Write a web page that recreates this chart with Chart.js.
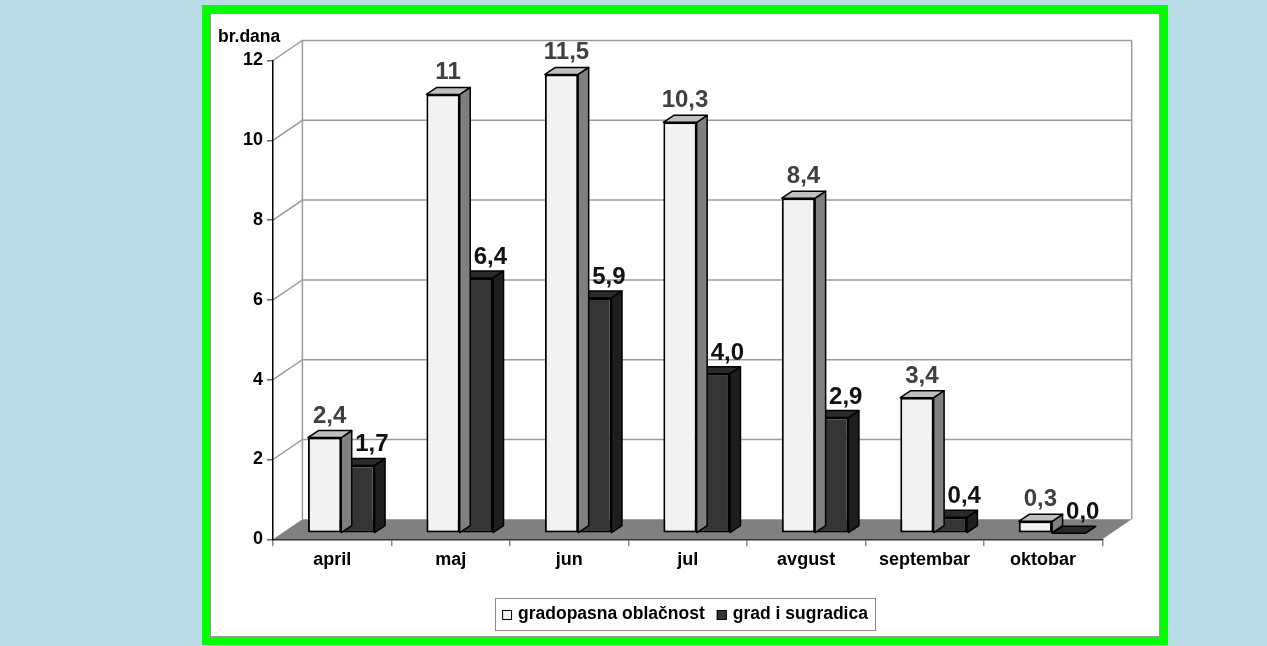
<!DOCTYPE html>
<html>
<head>
<meta charset="utf-8">
<title>br.dana</title>
<script src="https://cdn.jsdelivr.net/npm/chart.js@4.4.1/dist/chart.umd.min.js"></script>
<style>
    body {
        margin: 0;
        width: 1267px;
        height: 646px;
        overflow: hidden;
        position: relative;
        background: #b8dde6;
    }
    #panel {
        position: absolute;
        left: 202px;
        top: 5px;
        width: 966px;
        height: 640px;
        box-sizing: border-box;
        border: 8px solid #00ff00;
        background: #fff;
        box-shadow: inset 0 0 0 1px #9a9a9a;
    }
    #chart {
        position: absolute;
        left: 0;
        top: 0;
    }
</style>
</head>
<body>
<div id="panel"></div>
<canvas id="chart" width="1267" height="646"></canvas>
<script>
const months = ['april', 'maj', 'jun', 'jul', 'avgust', 'septembar', 'oktobar'];
// values as printed above the columns
const gradopasnaOblacnost = ['2,4', '11', '11,5', '10,3', '8,4', '3,4', '0,3'];
const gradISugradica = ['1,7', '6,4', '5,9', '4,0', '2,9', '0,4', '0,0'];
const yTicks = [0, 2, 4, 6, 8, 10, 12];

const FONT = '"Liberation Sans", Arial, sans-serif';
Chart.defaults.font.family = FONT;

const toNum = s => parseFloat(s.replace(',', '.'));

// oblique 3D look: floor depth, bar offset behind the front edge, bar depth
const WALL = { dx: 29.4, dy: -20 };
const SHIFT = { dx: 9, dy: -6 };
const DEPTH = { dx: 10.5, dy: -7 };

const faces = [
    { top: '#bfbfbf', side: '#7f7f7f', text: '#404040', lx: 5, ly: -15, labels: gradopasnaOblacnost },
    { top: '#2a2a2a', side: '#1e1e1e', text: '#111111', lx: 14, ly: -14, labels: gradISugradica }
];

function poly(ctx, pts, fill) {
    ctx.beginPath();
    ctx.moveTo(pts[0][0], pts[0][1]);
    for (let i = 1; i < pts.length; i++) ctx.lineTo(pts[i][0], pts[i][1]);
    ctx.closePath();
    if (fill) {
        ctx.fillStyle = fill;
        ctx.fill();
    }
    ctx.stroke();
}

const cubePlugin = {
    id: 'cube',
    beforeDraw(chart) {
        const { ctx, chartArea: a, scales: { y } } = chart;
        const bl = a.left + WALL.dx, br = a.right + WALL.dx;
        const y0 = y.getPixelForValue(0);
        const yTop = y.getPixelForValue(12);
        ctx.save();
        ctx.strokeStyle = '#9a9a9a';
        ctx.lineWidth = 1.5;
        // back wall grid + diagonals on the side wall
        yTicks.forEach(v => {
            if (v === 0) return;
            const py = y.getPixelForValue(v);
            ctx.beginPath();
            ctx.moveTo(a.left, py);
            ctx.lineTo(bl, py + WALL.dy);
            ctx.lineTo(br, py + WALL.dy);
            ctx.stroke();
        });
        ctx.beginPath();
        ctx.moveTo(bl, yTop + WALL.dy);
        ctx.lineTo(bl, y0 + WALL.dy);
        ctx.moveTo(br, yTop + WALL.dy);
        ctx.lineTo(br, y0 + WALL.dy);
        ctx.stroke();
        // floor
        ctx.beginPath();
        ctx.moveTo(a.left, y0);
        ctx.lineTo(a.right, y0);
        ctx.lineTo(br, y0 + WALL.dy);
        ctx.lineTo(bl, y0 + WALL.dy);
        ctx.closePath();
        ctx.fillStyle = '#808080';
        ctx.fill();
        ctx.restore();
    },
    beforeDatasetsDraw(chart) {
        chart.ctx.save();
        chart.ctx.translate(SHIFT.dx, SHIFT.dy);
    },
    afterDatasetDraw(chart, args) {
        const ctx = chart.ctx;
        const f = faces[args.index];
        ctx.save();
        ctx.strokeStyle = '#000';
        ctx.lineWidth = 1.5;
        ctx.lineJoin = 'round';
        args.meta.data.forEach(el => {
            const p = el.getProps(['x', 'y', 'base', 'width'], true);
            const l = p.x - p.width / 2, r = p.x + p.width / 2;
            const t = Math.min(p.y, p.base), b = Math.max(p.y, p.base);
            if (b - t > 0.5) {
                poly(ctx, [[r, t], [r, b], [r + DEPTH.dx, b + DEPTH.dy], [r + DEPTH.dx, t + DEPTH.dy]], f.side);
            }
            poly(ctx, [[l, t], [r, t], [r + DEPTH.dx, t + DEPTH.dy], [l + DEPTH.dx, t + DEPTH.dy]], f.top);
        });
        ctx.restore();
    },
    afterDatasetsDraw(chart) {
        const ctx = chart.ctx;
        ctx.restore();
        // value labels
        ctx.save();
        ctx.font = 'bold 24px ' + FONT;
        ctx.textAlign = 'center';
        ctx.textBaseline = 'alphabetic';
        chart.data.datasets.forEach((ds, i) => {
            const f = faces[i];
            ctx.fillStyle = f.text;
            chart.getDatasetMeta(i).data.forEach((el, j) => {
                const p = el.getProps(['x', 'y', 'base'], true);
                const t = Math.min(p.y, p.base);
                ctx.fillText(f.labels[j], p.x + f.lx + SHIFT.dx, t + f.ly + SHIFT.dy);
            });
        });
        ctx.restore();
    },
    afterDraw(chart) {
        const ctx = chart.ctx;
        ctx.save();
        // axis unit
        ctx.font = 'bold 17.5px ' + FONT;
        ctx.fillStyle = '#000';
        ctx.textBaseline = 'alphabetic';
        ctx.textAlign = 'left';
        ctx.fillText('br.dana', 218, 41.5);

        // legend box
        const box = 10, gap = 6, between = 12, pad = 7;
        const items = chart.data.datasets.map(ds => ({
            text: ds.label,
            fill: ds.backgroundColor,
            w: ctx.measureText(ds.label).width
        }));
        let total = pad * 2 + between * (items.length - 1);
        items.forEach(it => { total += box + gap + it.w; });
        const left = 685 - total / 2, top = 598, h = 32;
        ctx.strokeStyle = '#8c8c8c';
        ctx.lineWidth = 1;
        ctx.strokeRect(Math.round(left) + 0.5, top + 0.5, Math.round(total), h);
        let x = left + pad;
        items.forEach(it => {
            ctx.fillStyle = it.fill;
            ctx.fillRect(x, 610, box, box);
            ctx.strokeStyle = '#000';
            ctx.strokeRect(x + 0.5, 610.5, box - 1, box - 1);
            x += box + gap;
            ctx.fillStyle = '#000';
            ctx.fillText(it.text, x, 618.5);
            x += it.w + between;
        });
        ctx.restore();
    }
};

new Chart(document.getElementById('chart'), {
    type: 'bar',
    data: {
        labels: months,
        datasets: [
            {
                label: 'gradopasna oblačnost',
                data: gradopasnaOblacnost.map(toNum),
                backgroundColor: '#f2f2f2',
                borderColor: '#000',
                borderWidth: 2,
                borderSkipped: false,
                clip: false
            },
            {
                label: 'grad i sugradica',
                data: gradISugradica.map(toNum),
                backgroundColor: '#353535',
                borderColor: '#000',
                borderWidth: 2,
                borderSkipped: false,
                clip: false
            }
        ]
    },
    options: {
        responsive: false,
        animation: false,
        events: [],
        categoryPercentage: 0.5625,
        barPercentage: 1,
        layout: {
            padding: { left: 0, top: 60.5, right: 164.7, bottom: 66.7 }
        },
        plugins: {
            legend: { display: false },
            tooltip: { enabled: false }
        },
        scales: {
            x: {
                grid: { drawOnChartArea: false, tickLength: 7, color: '#8a8a8a', lineWidth: 1.5 },
                border: { color: '#333', width: 1.5 },
                ticks: { color: '#000', padding: 3, font: { size: 18, weight: 'bold' } },
                afterFit: s => { s.height = 40; }
            },
            y: {
                min: 0,
                max: 12,
                grid: { drawOnChartArea: false, tickLength: 6, color: '#666', lineWidth: 1.5 },
                border: { color: '#000', width: 1.5 },
                ticks: { stepSize: 2, color: '#000', padding: 4, font: { size: 18, weight: 'bold' } },
                afterFit: s => { s.width = 273; }
            }
        }
    },
    plugins: [cubePlugin]
});
</script>
</body>
</html>
